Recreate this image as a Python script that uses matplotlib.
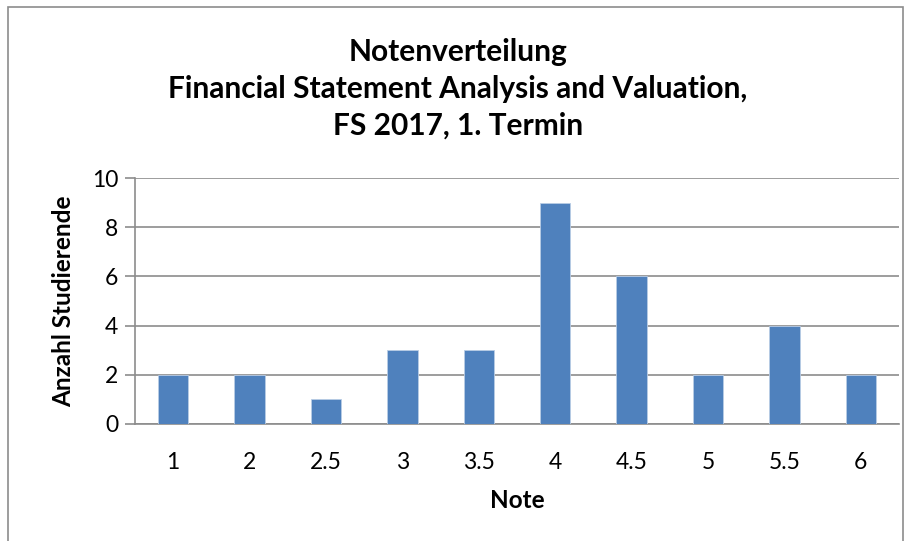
import matplotlib.pyplot as plt
from matplotlib.patches import Rectangle

plt.rcParams['font.family'] = ['Lato', 'DejaVu Sans']

# Daten
noten = ['1', '2', '2.5', '3', '3.5', '4', '4.5', '5', '5.5', '6']
anzahl = [2, 2, 1, 3, 3, 9, 6, 2, 4, 2]
y_ticks = [0, 2, 4, 6, 8, 10]

fig = plt.figure(figsize=(9.16, 5.41), dpi=100)
ax = fig.add_axes([135 / 916, 1 - 424 / 541, 764 / 916, 246 / 541])

# Rahmen um das Diagramm
fig.patches.append(Rectangle((8 / 916, -0.02), 895 / 916, 1 - 7 / 541 + 0.02,
                             transform=fig.transFigure, fill=False,
                             edgecolor='#8c8c8c', linewidth=1.2))

x = range(len(noten))
ax.bar(x, anzahl, width=0.4, color='#4f81bd', edgecolor='#b9cde5', linewidth=0.6, zorder=3)

ax.set_xlim(-0.5, len(noten) - 0.5)
ax.set_ylim(0, 10)
ax.set_xticks(list(x))
ax.set_xticklabels(noten)
ax.set_yticks(y_ticks)
ax.yaxis.grid(True, color='#8c8c8c', linewidth=1.2, zorder=0)
ax.tick_params(axis='x', length=0, labelsize=16.5, pad=20)
ax.tick_params(axis='y', length=7, width=1.2, color='#8c8c8c', labelsize=16.5, pad=5)

for s in ['top', 'right']:
    ax.spines[s].set_visible(False)
for s in ['left', 'bottom']:
    ax.spines[s].set_color('#8c8c8c')
    ax.spines[s].set_linewidth(1.2)

ax.set_xlabel('Note', fontsize=17.5, fontweight='bold', labelpad=12)
ax.set_ylabel('Anzahl Studierende', fontsize=17.5, fontweight='bold', labelpad=12)

fig.text(0.5, 1 - 89 / 541,
         'Notenverteilung\nFinancial Statement Analysis and Valuation,\nFS 2017, 1. Termin',
         ha='center', va='center', fontsize=21.5, fontweight='bold', linespacing=1.38)

fig.savefig('out.png', dpi=100)
